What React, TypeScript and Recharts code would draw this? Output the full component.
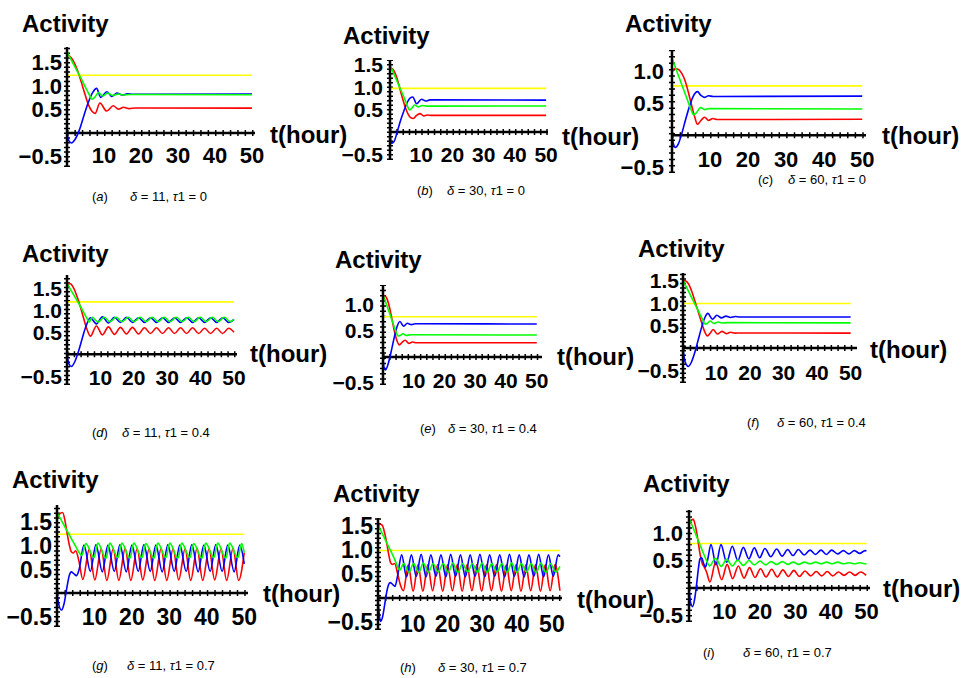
import { LineChart, Line, XAxis, YAxis, ReferenceLine } from 'recharts';

type Pt = [number, number];

const FONT = '"Liberation Sans", Arial, sans-serif';
const COLORS = ['#ffff00', '#ff0000', '#0000ff', '#00ff00'];

const xTicks = [10, 20, 30, 40, 50];
const yTicksTall = [-0.5, 0.5, 1, 1.5];
const yTicksShort = [-0.5, 0.5, 1];

const panelTags = ['a', 'b', 'c', 'd', 'e', 'f', 'g', 'h', 'i'];
const deltas = ['11', '30', '60', '11', '30', '60', '11', '30', '60'];
const tau1s = ['0', '0', '0', '0.4', '0.4', '0.4', '0.7', '0.7', '0.7'];

// (a) δ = 11, τ1 = 0
const yellowA: Pt[] = [[0, 1.23], [50, 1.23]];
const redA: Pt[] = [[0, 1.66], [0.8, 1.63], [1.8, 1.52], [2.8, 1.34], [3.8, 1.1], [4.8, 0.84], [5.8, 0.6], [6.8, 0.46], [7.6, 0.42], [8.9, 0.64], [10.7, 0.47], [12.5, 0.58], [13.9, 0.51], [15.3, 0.55], [16.8, 0.52], [18.5, 0.535], [50, 0.53]];
const blueA: Pt[] = [[0, 0], [0.5, -0.16], [1.2, -0.21], [2.2, -0.13], [3.4, 0.08], [4.6, 0.38], [5.8, 0.66], [7, 0.87], [8, 0.95], [9.1, 0.76], [10.8, 0.88], [12.1, 0.78], [13.5, 0.85], [14.9, 0.81], [16.3, 0.835], [18, 0.825], [50, 0.83]];
const greenA: Pt[] = [[0, 1.73], [1, 1.58], [2, 1.43], [3, 1.28], [4, 1.13], [5, 0.97], [6, 0.82], [6.7, 0.72], [7.5, 0.76], [8.5, 0.86], [9.6, 0.79], [11, 0.85], [12.4, 0.8], [13.8, 0.83], [15.3, 0.81], [17, 0.82], [50, 0.815]];

// (b) δ = 30, τ1 = 0
const yellowB: Pt[] = [[0, 0.97], [50, 0.97]];
const redB: Pt[] = [[0, 1.42], [0.8, 1.4], [1.8, 1.28], [2.8, 1.06], [3.8, 0.8], [4.8, 0.57], [5.8, 0.4], [6.6, 0.32], [7.5, 0.3], [8.5, 0.37], [9.6, 0.41], [10.8, 0.36], [12, 0.38], [13.3, 0.37], [50, 0.37]];
const blueB: Pt[] = [[0, 0], [0.5, -0.25], [1.3, -0.21], [2.3, 0], [3.3, 0.24], [4.5, 0.48], [5.7, 0.68], [6.5, 0.76], [7.3, 0.78], [8.5, 0.63], [10.1, 0.73], [11.5, 0.69], [12.8, 0.715], [50, 0.71]];
const greenB: Pt[] = [[0, 1.49], [1, 1.33], [2, 1.17], [3, 1.01], [4, 0.85], [5, 0.68], [5.7, 0.56], [6.2, 0.49], [7, 0.53], [7.9, 0.6], [9, 0.56], [10.3, 0.59], [11.6, 0.575], [50, 0.58]];

// (c) δ = 60, τ1 = 0
const yellowC: Pt[] = [[0, 0.77], [50, 0.77]];
const redC: Pt[] = [[0, 0.98], [0.7, 1.04], [1.6, 1.03], [2.6, 0.96], [3.5, 0.84], [4.3, 0.67], [5.1, 0.48], [5.9, 0.3], [6.7, 0.17], [7.6, 0.23], [8.6, 0.28], [9.6, 0.23], [10.7, 0.26], [11.8, 0.245], [50, 0.25]];
const blueC: Pt[] = [[0, 0], [0.4, -0.14], [0.9, -0.19], [1.7, -0.13], [2.6, 0.03], [3.6, 0.25], [4.6, 0.45], [5.6, 0.61], [6.7, 0.68], [7.6, 0.62], [8.5, 0.59], [9.6, 0.615], [10.8, 0.605], [50, 0.61]];
const greenC: Pt[] = [[0, 1.2], [1, 1.04], [2, 0.88], [3, 0.72], [4, 0.56], [5, 0.4], [5.7, 0.32], [6.4, 0.35], [7.5, 0.43], [8.6, 0.4], [9.8, 0.415], [50, 0.41]];

// (d) δ = 11, τ1 = 0.4
const yellowD: Pt[] = [[0, 1.19], [50, 1.19]];
const redD: Pt[] = [[0, 1.6], [1, 1.6], [2, 1.5], [3, 1.31], [4, 1.08], [5, 0.81], [6, 0.56], [7, 0.41], [8.8, 0.64], [10.6, 0.44], [12.4, 0.62], [14.2, 0.45], [16, 0.61], [17.8, 0.46], [19.6, 0.61], [21.4, 0.46], [23.2, 0.6], [25, 0.47], [26.8, 0.6], [28.6, 0.47], [30.4, 0.6], [32.2, 0.47], [34, 0.6], [35.8, 0.47], [37.6, 0.6], [39.4, 0.47], [41.2, 0.59], [43, 0.47], [44.8, 0.59], [46.6, 0.47], [48.4, 0.59], [50, 0.5]];
const blueD: Pt[] = [[0, 0], [0.5, -0.21], [1.3, -0.28], [2.4, -0.16], [3.5, 0.08], [4.6, 0.37], [5.7, 0.64], [7, 0.83], [8.8, 0.69], [10.6, 0.85], [12.4, 0.71], [14.2, 0.84], [16, 0.72], [17.8, 0.84], [19.6, 0.72], [21.4, 0.83], [23.2, 0.72], [25, 0.83], [26.8, 0.72], [28.6, 0.83], [30.4, 0.72], [32.2, 0.83], [34, 0.72], [35.8, 0.83], [37.6, 0.72], [39.4, 0.83], [41.2, 0.72], [43, 0.83], [44.8, 0.72], [46.6, 0.83], [48.4, 0.72], [50, 0.79]];
const greenD: Pt[] = [[0, 1.61], [1, 1.48], [2, 1.35], [3, 1.22], [4, 1.09], [5, 0.95], [6, 0.81], [6.6, 0.73], [7.6, 0.84], [9.3, 0.73], [11.1, 0.84], [12.9, 0.74], [14.7, 0.84], [16.5, 0.74], [18.3, 0.84], [20.1, 0.74], [21.9, 0.84], [23.7, 0.74], [25.5, 0.84], [27.3, 0.74], [29.1, 0.84], [30.9, 0.74], [32.7, 0.84], [34.5, 0.74], [36.3, 0.84], [38.1, 0.74], [39.9, 0.84], [41.7, 0.74], [43.5, 0.84], [45.3, 0.74], [47.1, 0.84], [48.9, 0.74], [50, 0.79]];

// (e) δ = 30, τ1 = 0.4
const yellowE: Pt[] = [[0, 0.77], [50, 0.77]];
const redE: Pt[] = [[0, 1.16], [0.6, 1.17], [1.4, 1.1], [2.2, 0.93], [3, 0.7], [3.8, 0.47], [4.6, 0.3], [5.3, 0.23], [6.2, 0.28], [7.2, 0.32], [8.4, 0.26], [9.6, 0.285], [10.9, 0.27], [50, 0.27]];
const blueE: Pt[] = [[0, 0], [0.3, -0.2], [0.8, -0.25], [1.6, -0.15], [2.5, 0.06], [3.5, 0.33], [4.5, 0.57], [5.5, 0.68], [6.7, 0.59], [7.9, 0.645], [9.2, 0.62], [10.5, 0.635], [50, 0.63]];
const greenE: Pt[] = [[0, 1.19], [1, 1.03], [2, 0.86], [3, 0.69], [4, 0.52], [4.9, 0.4], [5.6, 0.41], [6.5, 0.445], [7.6, 0.41], [8.8, 0.425], [50, 0.42]];

// (f) δ = 60, τ1 = 0.4
const yellowF: Pt[] = [[0, 0.99], [50, 0.99]];
const redF: Pt[] = [[0, 1.51], [0.7, 1.5], [1.7, 1.42], [2.7, 1.24], [3.7, 1.01], [4.7, 0.77], [5.7, 0.53], [6.6, 0.34], [7.3, 0.27], [8.2, 0.34], [9, 0.41], [10.3, 0.31], [11.6, 0.37], [12.9, 0.32], [14.2, 0.35], [15.5, 0.33], [17, 0.335], [50, 0.33]];
const blueF: Pt[] = [[0, 0], [0.6, -0.3], [1.6, -0.41], [2.6, -0.3], [3.6, -0.08], [4.6, 0.2], [5.6, 0.47], [6.6, 0.69], [7.4, 0.77], [8.8, 0.64], [10.1, 0.73], [11.5, 0.67], [12.8, 0.71], [14.2, 0.68], [15.6, 0.7], [17, 0.69], [50, 0.69]];
const greenF: Pt[] = [[0, 1.51], [1, 1.36], [2, 1.21], [3, 1.06], [4, 0.91], [5, 0.76], [6, 0.61], [6.6, 0.53], [7.3, 0.55], [8.1, 0.6], [9.2, 0.545], [10.5, 0.58], [11.8, 0.555], [13.2, 0.565], [50, 0.56]];

// (g) δ = 11, τ1 = 0.7
const yellowG: Pt[] = [[0, 1.25], [50, 1.25]];
const redG: Pt[] = [[0, 1.6], [0.7, 1.68], [1.5, 1.71], [2.1, 1.55], [2.7, 1.27], [3.3, 1.02], [3.8, 0.88], [4.3, 0.85], [5, 0.9], [5.8, 0.7], [6.9, 0.29], [8.6, 0.93], [10.1, 0.28], [11.8, 0.94], [13.3, 0.27], [15, 0.94], [16.5, 0.27], [18.2, 0.95], [19.7, 0.27], [21.4, 0.94], [22.9, 0.28], [24.6, 0.94], [26.1, 0.27], [27.8, 0.95], [29.3, 0.27], [31, 0.94], [32.5, 0.28], [34.2, 0.94], [35.7, 0.27], [37.4, 0.95], [38.9, 0.27], [40.6, 0.94], [42.1, 0.28], [43.8, 0.94], [45.3, 0.27], [47, 0.95], [48.5, 0.27], [50, 0.86]];
const blueG: Pt[] = [[0, 0], [0.5, -0.25], [1.2, -0.36], [1.9, -0.22], [2.6, 0.1], [3.3, 0.38], [3.8, 0.45], [4.4, 0.42], [5.2, 0.37], [5.9, 0.5], [7.2, 1.02], [8.9, 0.46], [10.4, 1.03], [12.1, 0.45], [13.6, 1.02], [15.3, 0.46], [16.8, 1.03], [18.5, 0.45], [20, 1.02], [21.7, 0.46], [23.2, 1.03], [24.9, 0.46], [26.4, 1.02], [28.1, 0.45], [29.6, 1.03], [31.3, 0.46], [32.8, 1.02], [34.5, 0.46], [36, 1.03], [37.7, 0.45], [39.2, 1.02], [40.9, 0.46], [42.4, 1.03], [44.1, 0.46], [45.6, 1.02], [47.3, 0.45], [48.8, 1.02], [50, 0.62]];
const greenG: Pt[] = [[0, 1.71], [1, 1.57], [2, 1.42], [3, 1.28], [4, 1.13], [5, 0.99], [6, 0.85], [6.6, 0.8], [7.7, 1.05], [9.9, 0.75], [10.9, 1.06], [13.1, 0.74], [14.1, 1.06], [16.3, 0.75], [17.3, 1.06], [19.5, 0.74], [20.5, 1.06], [22.7, 0.75], [23.7, 1.05], [25.9, 0.74], [26.9, 1.06], [29.1, 0.75], [30.1, 1.06], [32.3, 0.74], [33.3, 1.06], [35.5, 0.75], [36.5, 1.05], [38.7, 0.74], [39.7, 1.06], [41.9, 0.75], [42.9, 1.06], [45.1, 0.74], [46.1, 1.06], [48.3, 0.75], [49.3, 1.05], [50, 0.86]];

// (h) δ = 30, τ1 = 0.7
const yellowH: Pt[] = [[0, 0.99], [52.3, 0.99]];
const redH: Pt[] = [[0, 1.5], [0.6, 1.54], [1.2, 1.52], [1.9, 1.36], [2.5, 1.15], [3.1, 0.9], [3.6, 0.74], [4.2, 0.7], [4.8, 0.72], [5.6, 0.52], [6.4, 0.28], [7.3, 0.15], [8.7, 0.69], [10.1, 0.14], [11.5, 0.7], [12.9, 0.14], [14.3, 0.69], [15.7, 0.15], [17.15, 0.7], [18.6, 0.14], [20, 0.69], [21.4, 0.15], [22.8, 0.7], [24.2, 0.14], [25.6, 0.69], [27, 0.15], [28.4, 0.7], [29.8, 0.14], [31.2, 0.69], [32.6, 0.15], [34.05, 0.7], [35.5, 0.14], [36.9, 0.69], [38.3, 0.15], [39.7, 0.7], [41.1, 0.14], [42.5, 0.69], [43.9, 0.15], [45.3, 0.7], [46.7, 0.14], [48.1, 0.69], [49.5, 0.15], [50.9, 0.7], [52.3, 0.15]];
const blueH: Pt[] = [[0, 0], [0.3, -0.3], [0.7, -0.49], [1.3, -0.4], [1.9, -0.15], [2.5, 0.12], [3, 0.27], [3.5, 0.32], [4.1, 0.29], [4.9, 0.24], [5.6, 0.45], [6.8, 0.9], [8.2, 0.44], [9.6, 0.9], [11, 0.45], [12.4, 0.91], [13.8, 0.44], [15.2, 0.9], [16.65, 0.45], [18.1, 0.9], [19.5, 0.44], [20.9, 0.91], [22.3, 0.45], [23.7, 0.9], [25.1, 0.44], [26.5, 0.9], [27.9, 0.45], [29.3, 0.91], [30.7, 0.44], [32.1, 0.9], [33.55, 0.45], [35, 0.9], [36.4, 0.44], [37.8, 0.91], [39.2, 0.45], [40.6, 0.9], [42, 0.44], [43.4, 0.9], [44.8, 0.45], [46.2, 0.91], [47.6, 0.44], [49, 0.9], [50.4, 0.45], [51.8, 0.9], [52.3, 0.86]];
const greenH: Pt[] = [[0, 1.53], [1, 1.38], [2, 1.23], [3, 1.08], [4, 0.93], [5, 0.77], [5.7, 0.64], [6.2, 0.58], [7.4, 0.72], [8.9, 0.53], [10.2, 0.72], [11.7, 0.53], [13, 0.73], [14.5, 0.53], [15.8, 0.72], [17.3, 0.54], [18.7, 0.72], [20.2, 0.53], [21.5, 0.73], [23, 0.53], [24.3, 0.72], [25.8, 0.54], [27.1, 0.72], [28.6, 0.53], [29.9, 0.73], [31.4, 0.53], [32.7, 0.72], [34.2, 0.54], [35.6, 0.72], [37.1, 0.53], [38.4, 0.73], [39.9, 0.53], [41.2, 0.72], [42.7, 0.54], [44, 0.72], [45.5, 0.53], [46.8, 0.73], [48.3, 0.53], [49.6, 0.72], [51.1, 0.54], [52.3, 0.66]];

// (i) δ = 60, τ1 = 0.7
const yellowI: Pt[] = [[0, 0.81], [50, 0.81]];
const redI: Pt[] = [[0, 1.15], [0.6, 1.23], [1.2, 1.25], [1.8, 1.13], [2.5, 0.88], [3.1, 0.62], [3.7, 0.45], [4.3, 0.38], [4.9, 0.3], [5.9, 0.11], [7.5, 0.47], [9.2, 0.15], [10.75, 0.43], [12.3, 0.17], [13.9, 0.4], [15.5, 0.18], [17.05, 0.37], [18.6, 0.19], [20.15, 0.35], [21.7, 0.2], [23.3, 0.34], [24.9, 0.2], [26.45, 0.33], [28, 0.21], [29.55, 0.32], [31.1, 0.21], [32.7, 0.31], [34.3, 0.22], [35.85, 0.3], [37.4, 0.22], [38.95, 0.3], [40.5, 0.22], [42.1, 0.29], [43.7, 0.23], [45.25, 0.29], [46.8, 0.23], [48.35, 0.29], [49.9, 0.23]];
const blueI: Pt[] = [[0, 0], [0.4, -0.25], [1, -0.34], [1.6, -0.2], [2.2, 0.1], [2.7, 0.38], [3.1, 0.53], [3.6, 0.55], [4.1, 0.45], [4.6, 0.38], [5.2, 0.5], [6.2, 0.79], [7.6, 0.42], [9, 0.79], [10.6, 0.47], [12.2, 0.76], [13.75, 0.5], [15.3, 0.74], [16.85, 0.53], [18.4, 0.73], [19.9, 0.55], [21.4, 0.72], [23.05, 0.57], [24.7, 0.71], [26.25, 0.58], [27.8, 0.7], [29.3, 0.59], [30.8, 0.7], [32.45, 0.6], [34.1, 0.69], [35.65, 0.61], [37.2, 0.69], [38.7, 0.61], [40.2, 0.69], [41.85, 0.62], [43.5, 0.68], [45.05, 0.62], [46.6, 0.68], [48.1, 0.63], [49.6, 0.68], [50, 0.67]];
const greenI: Pt[] = [[0, 1.27], [1, 1.12], [2, 0.96], [3, 0.8], [4, 0.64], [5, 0.49], [5.8, 0.4], [7.5, 0.54], [9.1, 0.39], [10.6, 0.52], [12.2, 0.4], [13.7, 0.51], [15.3, 0.41], [16.9, 0.5], [18.4, 0.42], [20, 0.49], [21.6, 0.42], [23.1, 0.48], [24.7, 0.43], [26.3, 0.48], [27.8, 0.43], [29.4, 0.47], [30.9, 0.43], [32.5, 0.47], [34.1, 0.44], [35.7, 0.47], [37.2, 0.44], [38.8, 0.47], [40.3, 0.44], [41.9, 0.47], [43.5, 0.44], [45.1, 0.46], [46.6, 0.44], [48.2, 0.46], [49.7, 0.44], [50, 0.445]];

const panelSeries: Pt[][][] = [
  [yellowA, redA, blueA, greenA],
  [yellowB, redB, blueB, greenB],
  [yellowC, redC, blueC, greenC],
  [yellowD, redD, blueD, greenD],
  [yellowE, redE, blueE, greenE],
  [yellowF, redF, blueF, greenF],
  [yellowG, redG, blueG, greenG],
  [yellowH, redH, blueH, greenH],
  [yellowI, redI, blueI, greenI],
];

// page geometry of each small plot: axis origin, axis ends, text anchors
const layout = [
  { x0: 67, x1: 255, tMax: 50.8, yTop: 47, yBot: 167, yMin: -0.72, yMax: 1.83, yTicks: yTicksTall, gap: 5, xBase: 163, fs: 22, title: [22, 32], hour: [270, 143], cap: [92, 130, 201] },
  { x0: 390, x1: 548, tMax: 50.6, yTop: 60, yBot: 160, yMin: -0.62, yMax: 1.6, yTicks: yTicksTall, gap: 7, xBase: 162, fs: 21, title: [343, 44], hour: [562, 145], cap: [417, 447, 195] },
  { x0: 672, x1: 866, tMax: 51, yTop: 50, yBot: 173, yMin: -0.59, yMax: 1.33, yTicks: yTicksShort, gap: 8, xBase: 167, fs: 22, title: [625, 32], hour: [882, 144], cap: [758, 788, 184] },
  { x0: 67, x1: 237, tMax: 50.9, yTop: 275, yBot: 385, yMin: -0.7, yMax: 1.8, yTicks: yTicksTall, gap: 5, xBase: 385, fs: 21, title: [22, 262], hour: [250, 362], cap: [92, 122, 437] },
  { x0: 383, x1: 542, tMax: 51.7, yTop: 285, yBot: 385, yMin: -0.54, yMax: 1.38, yTicks: yTicksShort, gap: 9, xBase: 388, fs: 21, title: [335, 268], hour: [557, 365], cap: [420, 448, 433] },
  { x0: 683, x1: 857, tMax: 51.9, yTop: 273, yBot: 383, yMin: -0.78, yMax: 1.67, yTicks: yTicksTall, gap: 4, xBase: 380, fs: 21, title: [638, 257], hour: [870, 358], cap: [747, 777, 427] },
  { x0: 57, x1: 248, tMax: 51, yTop: 505, yBot: 627, yMin: -0.72, yMax: 1.87, yTicks: yTicksTall, gap: 5, xBase: 625, fs: 23, title: [12, 488], hour: [263, 602], cap: [92, 127, 670] },
  { x0: 378, x1: 562, tMax: 52.9, yTop: 518, yBot: 630, yMin: -0.67, yMax: 1.67, yTicks: yTicksTall, gap: 5, xBase: 632, fs: 23, title: [333, 502], hour: [577, 608], cap: [400, 438, 672] },
  { x0: 689, x1: 870, tMax: 51, yTop: 510, yBot: 622, yMin: -0.62, yMax: 1.42, yTicks: yTicksShort, gap: 6, xBase: 619, fs: 22, title: [643, 492], hour: [883, 597], cap: [703, 743, 657] },
];

const YW = 70;
const TOP = 12;
const RIGHT = 24;
const BOT = 14;

const rows = (pts: Pt[]) => pts.map(([t, v]) => ({ t, v }));
const fmtY = (v: number) => (v < 0 ? '\u2212' + Math.abs(v).toFixed(1) : v.toFixed(1));

function Panel({ idx }: { idx: number }) {
  const p = layout[idx];
  const plotW = p.x1 - p.x0;
  const plotH = p.yBot - p.yTop;
  const pxPerHour = plotW / p.tMax;
  const pxPerUnit = plotH / (p.yMax - p.yMin);
  const xDy = p.xBase - p.yBot;

  const xTick = (props: any) => (
    <text x={props.x} y={props.y + xDy} textAnchor="middle" fontSize={p.fs} fontWeight="bold" fontFamily={FONT} fill="#000">
      {props.payload.value}
    </text>
  );
  const yTick = (props: any) => (
    <text x={props.x} y={props.y} textAnchor="end" dominantBaseline="central" fontSize={p.fs} fontWeight="bold" fontFamily={FONT} fill="#000">
      {fmtY(props.payload.value)}
    </text>
  );

  return (
    <div style={{ position: 'absolute', left: p.x0 - YW, top: p.yTop - TOP }}>
      <LineChart width={YW + plotW + RIGHT} height={TOP + plotH + 1 + BOT} margin={{ top: TOP, right: RIGHT, bottom: BOT, left: 0 }}>
        <XAxis type="number" dataKey="t" domain={[0, p.tMax]} ticks={xTicks} interval={0} allowDataOverflow height={1} axisLine={false} tickLine={false} tickSize={0} tickMargin={0} tick={xTick} />
        <YAxis type="number" dataKey="v" domain={[p.yMin, p.yMax]} ticks={p.yTicks} interval={0} allowDataOverflow width={YW} axisLine={{ stroke: '#000', strokeWidth: 2.5 }} tickLine={false} tickSize={0} tickMargin={p.gap} tick={yTick} />
        {/* time axis through zero, with minor ticks every 2 h */}
        <ReferenceLine y={0} stroke="#000" strokeWidth={2.5} />
        <ReferenceLine y={0} stroke="#000" strokeWidth={6} strokeDasharray={`1.5 ${(2 * pxPerHour - 1.5).toFixed(2)}`} />
        {/* minor ticks on the activity axis every 0.1 */}
        <ReferenceLine x={0} stroke="#000" strokeWidth={6} strokeDasharray={`1.5 ${(0.1 * pxPerUnit - 1.5).toFixed(2)}`} />
        {panelSeries[idx].map((pts, k) => (
          <Line key={k} data={rows(pts)} dataKey="v" type="monotone" stroke={COLORS[k]} strokeWidth={1.6} dot={false} activeDot={false} isAnimationActive={false} />
        ))}
      </LineChart>
    </div>
  );
}

export default function App() {
  return (
    <div style={{ position: 'absolute', left: 0, top: 0, width: 964, height: 678, background: '#fff', overflow: 'hidden' }}>
      {layout.map((_, i) => (
        <Panel key={i} idx={i} />
      ))}
      <svg width={964} height={678} style={{ position: 'absolute', left: 0, top: 0, pointerEvents: 'none' }}>
        {layout.map((p, i) => (
          <g key={i} fontFamily={FONT} fill="#000">
            <text x={p.title[0]} y={p.title[1]} fontSize={24} fontWeight="bold">Activity</text>
            <text x={p.hour[0]} y={p.hour[1]} fontSize={24} fontWeight="bold">t(hour)</text>
            <text x={p.cap[0]} y={p.cap[2]} fontSize={13}>
              (<tspan fontStyle="italic">{panelTags[i]}</tspan>)
            </text>
            <text x={p.cap[1]} y={p.cap[2]} fontSize={13}>
              <tspan fontStyle="italic">δ</tspan> = {deltas[i]}, <tspan fontStyle="italic">τ</tspan>1 = {tau1s[i]}
            </text>
          </g>
        ))}
      </svg>
    </div>
  );
}
